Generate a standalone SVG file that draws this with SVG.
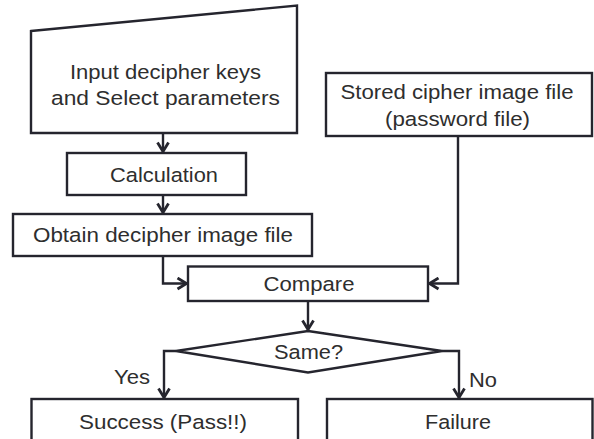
<svg xmlns="http://www.w3.org/2000/svg" width="594" height="439" viewBox="0 0 594 439">
  <style>
    .box { fill: #ffffff; stroke: #25252e; stroke-width: 2.4; }
    .lbl { font-family: "Liberation Sans", Arial, sans-serif; font-size: 20.5px; fill: #2e2e2e; text-anchor: middle; }
    .edge { fill: none; stroke: #25252e; stroke-width: 2.4; }
  </style>
  <defs>
    <marker id="arr" viewBox="0 0 12 14" refX="11" refY="7" markerWidth="12" markerHeight="14" markerUnits="userSpaceOnUse" orient="auto">
      <path d="M1.5,1.5 L10.5,7 L1.5,12.5" fill="none" stroke="#25252e" stroke-width="2.8"/>
    </marker>
  </defs>
  <rect width="594" height="439" fill="#ffffff"/>

  <g id="input">
    <polygon class="box" points="31,31 297,5.5 297,133 31,133"/>
    <text class="lbl" x="165.5" y="78.5" textLength="191" lengthAdjust="spacingAndGlyphs">Input decipher keys</text>
    <text class="lbl" x="165.5" y="104.5" textLength="229" lengthAdjust="spacingAndGlyphs">and Select parameters</text>
  </g>
  <g id="calculation">
    <rect class="box" x="67" y="153" width="179" height="42"/>
    <text class="lbl" x="164" y="181.5" textLength="108" lengthAdjust="spacingAndGlyphs">Calculation</text>
  </g>
  <g id="obtain">
    <rect class="box" x="13" y="214" width="299" height="42"/>
    <text class="lbl" x="163" y="242" textLength="260" lengthAdjust="spacingAndGlyphs">Obtain decipher image file</text>
  </g>
  <g id="stored">
    <rect class="box" x="326" y="73" width="266" height="63"/>
    <text class="lbl" x="457" y="98.5" textLength="233" lengthAdjust="spacingAndGlyphs">Stored cipher image file</text>
    <text class="lbl" x="457.5" y="125.5" textLength="145" lengthAdjust="spacingAndGlyphs">(password file)</text>
  </g>
  <g id="compare">
    <rect class="box" x="188" y="266.5" width="240" height="34.5"/>
    <text class="lbl" x="309" y="291" textLength="91" lengthAdjust="spacingAndGlyphs">Compare</text>
  </g>
  <g id="same">
    <polygon class="box" points="308,331 442,351 308,372.5 176,351"/>
    <text class="lbl" x="308.5" y="358.5" textLength="69" lengthAdjust="spacingAndGlyphs">Same?</text>
  </g>
  <g id="success">
    <rect class="box" x="31.5" y="399" width="266.5" height="60"/>
    <text class="lbl" x="163" y="428.5" textLength="168" lengthAdjust="spacingAndGlyphs">Success (Pass!!)</text>
  </g>
  <g id="failure">
    <rect class="box" x="327" y="399" width="265.5" height="60"/>
    <text class="lbl" x="458" y="428.5" textLength="66" lengthAdjust="spacingAndGlyphs">Failure</text>
  </g>

  <g id="connectors">
    <path class="edge" d="M163,133 V152" marker-end="url(#arr)"/>
    <path class="edge" d="M163,195 V213" marker-end="url(#arr)"/>
    <path class="edge" d="M163,256 V283.5 H187" marker-end="url(#arr)"/>
    <path class="edge" d="M458,136 V283.5 H429" marker-end="url(#arr)"/>
    <path class="edge" d="M308,301 V330" marker-end="url(#arr)"/>
    <path class="edge" d="M176,351 H164 V398" marker-end="url(#arr)"/>
    <path class="edge" d="M442,351 H459 V398" marker-end="url(#arr)"/>
    <text class="lbl" x="132" y="383.5" textLength="36" lengthAdjust="spacingAndGlyphs">Yes</text>
    <text class="lbl" x="483" y="386.5" textLength="28" lengthAdjust="spacingAndGlyphs">No</text>
  </g>
</svg>
